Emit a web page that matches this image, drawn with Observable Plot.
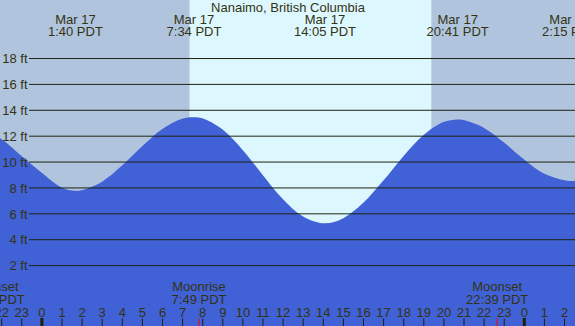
<!DOCTYPE html>
<html>
<head>
<meta charset="utf-8">
<script src="https://cdn.jsdelivr.net/npm/d3@7"></script>
<script src="https://cdn.jsdelivr.net/npm/@observablehq/plot@0.6"></script>
<style>
  html, body { margin: 0; padding: 0; background: #fff; }
  #chart svg { display: block; }
</style>
</head>
<body>
<div id="chart"></div>
<script>
// ---- data (hours since Mar 17 00:00 PDT, heights in feet) ----
const title = "Nanaimo, British Columbia";
const tideHours = [-3, -2, -1, 0, 1, 1.667, 2, 3, 4, 5, 6, 7, 7.567, 8, 9, 10, 11, 12, 13, 14.083, 15, 16, 17, 18, 19, 20, 20.683, 21, 22, 23, 24, 25, 26.25, 27];
const tideFeet  = [12.4, 11.75, 10.45, 9.15, 8.0, 7.74, 7.79, 8.43, 9.67, 11.16, 12.49, 13.3, 13.43, 13.34, 12.49, 10.92, 8.99, 7.13, 5.78, 5.23, 5.61, 6.79, 8.51, 10.4, 12.03, 13.05, 13.25, 13.21, 12.62, 11.49, 10.17, 9.07, 8.5, 8.62];

const extremeDates = ["Mar 17", "Mar 17", "Mar 17", "Mar 17", "Mar 18"];
const extremeTimes = ["1:40", "7:34", "14:05", "20:41", "2:15"];
const extremeDays  = [0, 0, 0, 0, 1];

const sunEvents = ["7:22", "19:24"];          // sunrise, sunset (Mar 17)

const moonNames = ["Moonset", "Moonrise", "Moonset"];
const moonTimes = ["21:36", "7:49", "22:39"];
const moonDays  = [-1, 0, 0];

const hourTicks = d3.range(-2, 27);            // hourly ticks along the bottom
const midnights = [0, 24];
const feetTicks = [2, 4, 6, 8, 10, 12, 14, 16, 18];

// ---- helpers ----
const toH = (s, day = 0) => { const [h, m] = s.split(":").map(Number); return day * 24 + h + m / 60; };
const tide = tideHours.map((t, i) => ({t, h: tideFeet[i]}));
const extremes = extremeTimes.map((s, i) => ({t: toH(s, extremeDays[i]), label: extremeDates[i] + "\n" + s + " PDT"}));
const day = [{t1: toH(sunEvents[0]), t2: toH(sunEvents[1])}];
const moons = moonTimes.map((s, i) => ({t: toH(s, moonDays[i]), label: moonNames[i] + "\n" + s + " PDT"}));

const xDomain = [-2.0597, 26.547];
const yDomain = [-2.7054, 22.483];

const ink = "#333311";
const water = "#4161d6";
const dayColor = "#ddf7ff";
const nightColor = "#b0c4de";

const chart = Plot.plot({
  width: 575,
  height: 326,
  margin: 0,
  x: {domain: xDomain, axis: null},
  y: {domain: yDomain, axis: null},
  style: {background: nightColor, fontFamily: "'Liberation Sans', Arial, sans-serif", fontSize: "13px", color: ink},
  marks: [
    Plot.rect(day, {x1: "t1", x2: "t2", fill: dayColor}),
    Plot.areaY(tide, {x: "t", y1: yDomain[0], y2: "h", curve: "catmull-rom", fill: water, clip: true}),
    Plot.ruleY(feetTicks, {stroke: "#1e2410", strokeWidth: 1, insetLeft: 29}),
    Plot.text(feetTicks, {y: d => d, text: d => d + " ft", frameAnchor: "left", textAnchor: "end", dx: 27, dy: 0.5, fill: ink}),
    Plot.text([title], {text: d => d, frameAnchor: "top", lineAnchor: "top", dy: 1.8, fill: ink}),
    Plot.text(extremes, {x: "t", text: "label", frameAnchor: "top", lineAnchor: "top", lineHeight: 0.93, dy: 14.8, fill: ink}),
    Plot.text(moons, {x: "t", text: "label", frameAnchor: "top", lineAnchor: "top", lineHeight: 0.95, dy: 282.1, fill: ink}),
    Plot.text(hourTicks, {x: d => d, text: d => String(((d % 24) + 24) % 24), frameAnchor: "top", lineAnchor: "top", dy: 306.8, fill: ink}),
    Plot.ruleX(hourTicks, {x: d => d, stroke: "#1e1e0a", strokeWidth: 1, insetTop: 318.5}),
    Plot.ruleX(midnights, {x: d => d, stroke: "#1e1e0a", strokeWidth: 3, insetTop: 318}),
    Plot.ruleX(moons, {x: "t", stroke: "#ff0000", strokeWidth: 1, insetTop: 318.5})
  ]
});
document.getElementById("chart").appendChild(chart);
</script>
</body>
</html>
